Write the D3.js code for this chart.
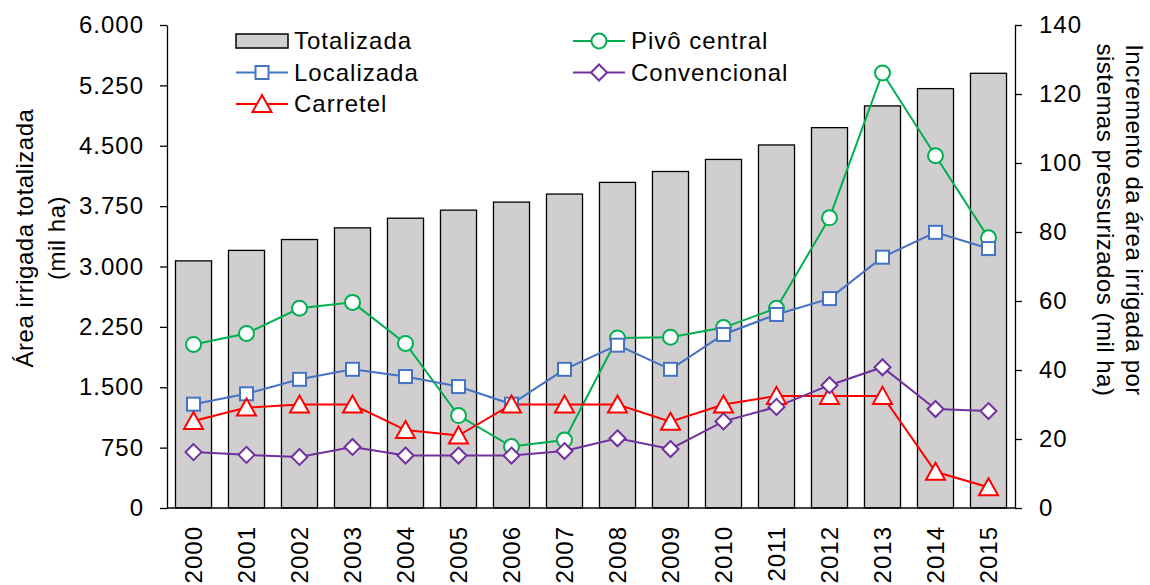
<!DOCTYPE html>
<html>
<head>
<meta charset="utf-8">
<script src="https://cdn.jsdelivr.net/npm/d3@7"></script>
<style>
  body { margin: 0; background: #fff; }
  text { font-family: "Liberation Sans", Arial, sans-serif; fill: #000; }
</style>
</head>
<body>
<div id="vis"></div>
<script>
const years = ["2000","2001","2002","2003","2004","2005","2006","2007","2008","2009","2010","2011","2012","2013","2014","2015"];
const totalizada = [3070, 3200, 3335, 3480, 3600, 3700, 3800, 3900, 4045, 4180, 4330, 4510, 4725, 4995, 5210, 5400];
const localizada = [30.1, 33.1, 37.3, 40.2, 38.1, 35.2, 30.1, 40.2, 47.2, 40.2, 50.3, 56.1, 60.7, 72.7, 79.9, 75.2];
const carretel = [25.2, 29.1, 30, 30, 22.6, 21, 30, 30, 30, 25, 30, 32.5, 32.5, 32.5, 10.5, 6];
const pivo = [47.4, 50.6, 57.9, 59.6, 47.7, 26.8, 17.8, 19.7, 49.3, 49.5, 52.3, 57.9, 84.1, 126.1, 102.1, 78.3];
const convencional = [16.2, 15.4, 14.8, 17.7, 15.2, 15.2, 15.2, 16.5, 20.2, 17.1, 25.1, 29.3, 35.6, 40.8, 28.7, 28.1];
const leftTicks = [0, 750, 1500, 2250, 3000, 3750, 4500, 5250, 6000];
const rightTicks = [0, 20, 40, 60, 80, 100, 120, 140];

const series = [
  {name: "Localizada", values: localizada, color: "#4472C4", symbol: "square"},
  {name: "Carretel", values: carretel, color: "#FF0000", symbol: "triangle"},
  {name: "Pivô central", values: pivo, color: "#00B050", symbol: "circle"},
  {name: "Convencional", values: convencional, color: "#7030A0", symbol: "diamond"}
];

const W = 1150, H = 585;
const plot = {left: 167, right: 1015, top: 25, bottom: 508};
const fontSize = 24;

const svg = d3.select("#vis").append("svg")
    .attr("width", W)
    .attr("height", H);

const x = d3.scaleBand()
    .domain(years)
    .range([plot.left, plot.right])
    .paddingInner(0.32)
    .paddingOuter(0.16);

const yLeft = d3.scaleLinear().domain([0, 6000]).range([plot.bottom, plot.top]);
const yRight = d3.scaleLinear().domain([0, 140]).range([plot.bottom, plot.top]);

const ptBR = d3.formatLocale({decimal: ",", thousands: ".", grouping: [3], currency: ["", ""]});
const fmt = ptBR.format(",d");

// bars
svg.append("g").selectAll("rect")
    .data(totalizada)
    .join("rect")
    .attr("x", (d, i) => x(years[i]))
    .attr("y", d => yLeft(d))
    .attr("width", x.bandwidth())
    .attr("height", d => yLeft(0) - yLeft(d))
    .attr("fill", "#D0CECE")
    .attr("stroke", "#000")
    .attr("stroke-width", 1.3);

// axes
const leftAxis = svg.append("g")
    .attr("transform", `translate(${plot.left},0)`)
    .call(d3.axisLeft(yLeft).tickValues(leftTicks).tickFormat(fmt).tickSize(7).tickPadding(16).tickSizeOuter(0));

const rightAxis = svg.append("g")
    .attr("transform", `translate(${plot.right},0)`)
    .call(d3.axisRight(yRight).tickValues(rightTicks).tickSize(7).tickPadding(17).tickSizeOuter(0));

[leftAxis, rightAxis].forEach(g => {
  g.selectAll("path, line").attr("stroke", "#000").attr("stroke-width", 1.3);
  g.selectAll("text").attr("font-size", fontSize).attr("font-family", null).attr("letter-spacing", 1);
});

svg.append("line")
    .attr("x1", plot.left).attr("x2", plot.right)
    .attr("y1", plot.bottom).attr("y2", plot.bottom)
    .attr("stroke", "#000").attr("stroke-width", 1.3);

// year labels
svg.append("g").selectAll("text")
    .data(years)
    .join("text")
    .attr("transform", d => `translate(${x(d) + x.bandwidth() / 2},526) rotate(-90)`)
    .attr("text-anchor", "end")
    .attr("dy", "0.35em")
    .attr("font-size", fontSize)
    .attr("letter-spacing", 1)
    .text(d => d);

// symbols
function marker(sel, s) {
  if (s.symbol === "circle") {
    sel.append("circle").attr("r", 7.5);
  } else if (s.symbol === "square") {
    sel.append("rect").attr("x", -6.5).attr("y", -6.5).attr("width", 13).attr("height", 13);
  } else if (s.symbol === "triangle") {
    sel.append("path").attr("d", "M0,-9L9.5,8L-9.5,8Z");
  } else {
    sel.append("path").attr("d", "M0,-8L8,0L0,8L-8,0Z");
  }
  sel.selectAll("*").attr("fill", "#fff").attr("stroke", s.color).attr("stroke-width", 2);
}

const line = d3.line()
    .x((d, i) => x(years[i]) + x.bandwidth() / 2)
    .y(d => yRight(d));

const drawOrder = [series[2], series[0], series[1], series[3]];
drawOrder.forEach(s => {
  svg.append("path")
      .datum(s.values)
      .attr("d", line)
      .attr("fill", "none")
      .attr("stroke", s.color)
      .attr("stroke-width", 2);
});
drawOrder.forEach(s => {
  svg.append("g").selectAll("g")
      .data(s.values)
      .join("g")
      .attr("transform", (d, i) => `translate(${x(years[i]) + x.bandwidth() / 2},${yRight(d)})`)
      .each(function() { marker(d3.select(this), s); });
});

// axis titles
const leftTitle = svg.append("text")
    .attr("transform", "translate(33,238) rotate(-90)")
    .attr("text-anchor", "middle")
    .attr("font-size", fontSize)
    .attr("letter-spacing", 0.5);
leftTitle.append("tspan").attr("x", 0).attr("y", 0).text("Área irrigada totalizada");
leftTitle.append("tspan").attr("x", 0).attr("y", 32).text("(mil ha)");

const rightTitle = svg.append("text")
    .attr("transform", "translate(1126,220) rotate(90)")
    .attr("text-anchor", "middle")
    .attr("font-size", fontSize)
    .attr("letter-spacing", 0.5);
rightTitle.append("tspan").attr("x", 0).attr("y", 0).text("Incremento da área irrigada por");
rightTitle.append("tspan").attr("x", 0).attr("y", 29).text("sistemas pressurizados (mil ha)");

// legend
const legendItems = [
  {name: "Totalizada", col: 0, row: 0},
  {name: "Localizada", col: 0, row: 1, s: series[0]},
  {name: "Carretel", col: 0, row: 2, s: series[1]},
  {name: "Pivô central", col: 1, row: 0, s: series[2]},
  {name: "Convencional", col: 1, row: 1, s: series[3]}
];
const colX = [236, 573];
const legend = svg.append("g");
legendItems.forEach(it => {
  const g = legend.append("g")
      .attr("transform", `translate(${colX[it.col]},${41 + it.row * 31.5})`);
  if (!it.s) {
    g.append("rect").attr("x", 0).attr("y", -7).attr("width", 52).attr("height", 14)
        .attr("fill", "#D0CECE").attr("stroke", "#000").attr("stroke-width", 1.5);
  } else {
    g.append("line").attr("x1", 0).attr("x2", 52).attr("stroke", it.s.color).attr("stroke-width", 2);
    const m = g.append("g").attr("transform", "translate(26,0)");
    marker(m, it.s);
  }
  g.append("text")
      .attr("x", 58)
      .attr("dy", "0.35em")
      .attr("font-size", fontSize)
      .attr("letter-spacing", 1)
      .text(it.name);
});
</script>
</body>
</html>
